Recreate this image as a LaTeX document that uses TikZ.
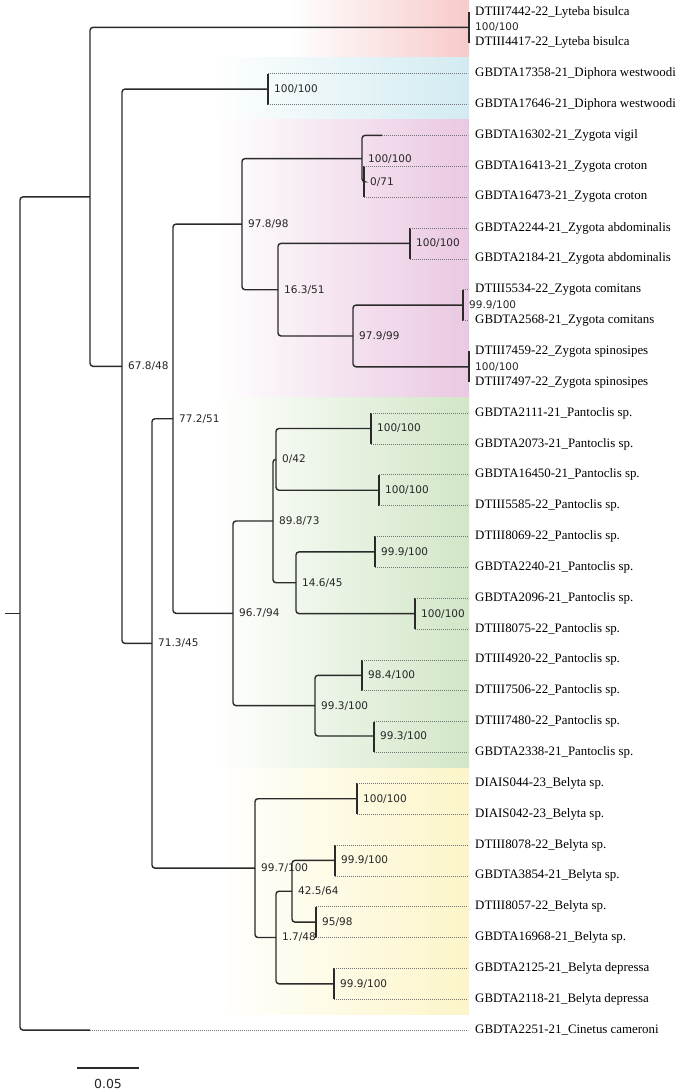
\documentclass[tikz,border=0pt]{standalone}
\usepackage{fontspec}
\setmainfont{Liberation Serif}
\newfontfamily\bsfont{DejaVu Sans}
\definecolor{lytcol}{HTML}{F8CACA}
\definecolor{dipcol}{HTML}{D2EBF1}
\definecolor{zygcol}{HTML}{EAC8E1}
\definecolor{pancol}{HTML}{D2E6C7}
\definecolor{belcol}{HTML}{FCF5C8}
\definecolor{brcol}{HTML}{2A2A2A}
\begin{document}
\begin{tikzpicture}[x=1pt, y=-1pt,
  branch/.style={draw=brcol, line width=1.4pt, rounded corners=3pt},
  leader/.style={draw=black!55, line width=0.6pt, dash pattern=on 0.7pt off 1.3pt},
  tip/.style={anchor=west, inner xsep=7pt, inner ysep=1pt, font=\fontsize{12.9}{14}\selectfont},
  bs/.style={anchor=west, inner sep=1pt, xshift=5pt, text=black!85, font=\bsfont\fontsize{10.5}{12}\selectfont}]
\useasboundingbox (0,0) rectangle (691,1090);

% clade bands
\shade[left color=white, right color=lytcol] (290,0) rectangle (469,57);
\shade[left color=white, right color=dipcol] (210,57) rectangle (469,119);
\shade[left color=white, right color=zygcol] (215,119) rectangle (469,397);
\shade[left color=white, right color=pancol] (215,397) rectangle (469,768);
\shade[left color=white, right color=belcol] (215,768) rectangle (469,1014);

% tips
\node[tip] (t1) at (468,12.0) {DTIII7442-22\_Lyteba bisulca};
\node[tip] (t2) at (468,42.85) {DTIII4417-22\_Lyteba bisulca};
\node[tip] (t3) at (468,73.7) {GBDTA17358-21\_Diphora westwoodi};
\node[tip] (t4) at (468,104.55) {GBDTA17646-21\_Diphora westwoodi};
\node[tip] (t5) at (468,135.4) {GBDTA16302-21\_Zygota vigil};
\node[tip] (t6) at (468,166.25) {GBDTA16413-21\_Zygota croton};
\node[tip] (t7) at (468,197.1) {GBDTA16473-21\_Zygota croton};
\node[tip] (t8) at (468,227.95) {GBDTA2244-21\_Zygota abdominalis};
\node[tip] (t9) at (468,258.8) {GBDTA2184-21\_Zygota abdominalis};
\node[tip] (t10) at (468,289.65) {DTIII5534-22\_Zygota comitans};
\node[tip] (t11) at (468,320.5) {GBDTA2568-21\_Zygota comitans};
\node[tip] (t12) at (468,351.35) {DTIII7459-22\_Zygota spinosipes};
\node[tip] (t13) at (468,382.2) {DTIII7497-22\_Zygota spinosipes};
\node[tip] (t14) at (468,413.05) {GBDTA2111-21\_Pantoclis sp.};
\node[tip] (t15) at (468,443.9) {GBDTA2073-21\_Pantoclis sp.};
\node[tip] (t16) at (468,474.75) {GBDTA16450-21\_Pantoclis sp.};
\node[tip] (t17) at (468,505.6) {DTIII5585-22\_Pantoclis sp.};
\node[tip] (t18) at (468,536.45) {DTIII8069-22\_Pantoclis sp.};
\node[tip] (t19) at (468,567.3) {GBDTA2240-21\_Pantoclis sp.};
\node[tip] (t20) at (468,598.15) {GBDTA2096-21\_Pantoclis sp.};
\node[tip] (t21) at (468,629.0) {DTIII8075-22\_Pantoclis sp.};
\node[tip] (t22) at (468,659.85) {DTIII4920-22\_Pantoclis sp.};
\node[tip] (t23) at (468,690.7) {DTIII7506-22\_Pantoclis sp.};
\node[tip] (t24) at (468,721.55) {DTIII7480-22\_Pantoclis sp.};
\node[tip] (t25) at (468,752.4) {GBDTA2338-21\_Pantoclis sp.};
\node[tip] (t26) at (468,783.25) {DIAIS044-23\_Belyta sp.};
\node[tip] (t27) at (468,814.1) {DIAIS042-23\_Belyta sp.};
\node[tip] (t28) at (468,844.95) {DTIII8078-22\_Belyta sp.};
\node[tip] (t29) at (468,875.8) {GBDTA3854-21\_Belyta sp.};
\node[tip] (t30) at (468,906.65) {DTIII8057-22\_Belyta sp.};
\node[tip] (t31) at (468,937.5) {GBDTA16968-21\_Belyta sp.};
\node[tip] (t32) at (468,968.35) {GBDTA2125-21\_Belyta depressa};
\node[tip] (t33) at (468,999.2) {GBDTA2118-21\_Belyta depressa};
\node[tip] (t34) at (468,1030.05) {GBDTA2251-21\_Cinetus cameroni};

% internal nodes
\coordinate (base) at (5,613.5);
\coordinate (root) at (20,613.5);
\coordinate (nA) at (90,196.9);
\coordinate (nB) at (122,366.3);
\coordinate (nC) at (152,643.4);
\coordinate (nD) at (173,418.7);
\coordinate (nE) at (242,224.1);
\coordinate (nF) at (362,158.6);
\coordinate (nG) at (364,181.7);
\coordinate (nH) at (278,289.7);
\coordinate (nI) at (353,336.0);
\coordinate (nJ) at (233,613.3);
\coordinate (nK) at (273,521.0);
\coordinate (nL) at (276,459.3);
\coordinate (nM) at (296,582.7);
\coordinate (nN) at (315,705.6);
\coordinate (nO) at (255,868.1);
\coordinate (nP) at (276,937.5);
\coordinate (nQ) at (292,891.2);
% sister pairs
\coordinate (cLyt) at (469,27.4);
\coordinate (cDip) at (268,89.1);
\coordinate (cAbd) at (410,243.4);
\coordinate (cCom) at (463,305.1);
\coordinate (cSpi) at (469,366.8);
\coordinate (cPa1) at (371,428.5);
\coordinate (cPa2) at (379,490.2);
\coordinate (cPa3) at (375,551.9);
\coordinate (cPa4) at (415,613.6);
\coordinate (cPa5) at (362,675.3);
\coordinate (cPa6) at (374,736.0);
\coordinate (cBe1) at (357,798.7);
\coordinate (cBe2) at (335,860.4);
\coordinate (cBe3) at (316,922.1);
\coordinate (cBe4) at (334,983.8);
\coordinate (vig) at (382,135.4);
\coordinate (cin) at (90,1030.05);

% branches
\draw[branch] (base) -- (root);
\draw[branch] (nA) -| (root) |- (cin);
\draw[branch] (cLyt) -| (nA) |- (nB);
\draw[branch] (cDip) -| (nB) |- (nC);
\draw[branch] (nD) -| (nC) |- (nO);
\draw[branch] (nE) -| (nD) |- (nJ);
\draw[branch] (nF) -| (nE) |- (nH);
\draw[branch] (vig) -| (nF) |- (nG);
\draw[branch] (cAbd) -| (nH) |- (nI);
\draw[branch] (cCom) -| (nI) |- (cSpi);
\draw[branch] (nK) -| (nJ) |- (nN);
\draw[branch] (nL) -| (nK) |- (nM);
\draw[branch] (cPa1) -| (nL) |- (cPa2);
\draw[branch] (cPa3) -| (nM) |- (cPa4);
\draw[branch] (cPa5) -| (nN) |- (cPa6);
\draw[branch] (cBe1) -| (nO) |- (nP);
\draw[branch] (nQ) -| (nP) |- (cBe4);
\draw[branch] (cBe2) -| (nQ) |- (cBe3);

% pair stems
\draw[branch] (cLyt |- t1.west) -- (cLyt |- t2.west);
\draw[branch] (cDip |- t3.west) -- (cDip |- t4.west);
\draw[branch] (nG |- t6.west) -- (nG |- t7.west);
\draw[branch] (cAbd |- t8.west) -- (cAbd |- t9.west);
\draw[branch] (cCom |- t10.west) -- (cCom |- t11.west);
\draw[branch] (cSpi |- t12.west) -- (cSpi |- t13.west);
\draw[branch] (cPa1 |- t14.west) -- (cPa1 |- t15.west);
\draw[branch] (cPa2 |- t16.west) -- (cPa2 |- t17.west);
\draw[branch] (cPa3 |- t18.west) -- (cPa3 |- t19.west);
\draw[branch] (cPa4 |- t20.west) -- (cPa4 |- t21.west);
\draw[branch] (cPa5 |- t22.west) -- (cPa5 |- t23.west);
\draw[branch] (cPa6 |- t24.west) -- (cPa6 |- t25.west);
\draw[branch] (cBe1 |- t26.west) -- (cBe1 |- t27.west);
\draw[branch] (cBe2 |- t28.west) -- (cBe2 |- t29.west);
\draw[branch] (cBe3 |- t30.west) -- (cBe3 |- t31.west);
\draw[branch] (cBe4 |- t32.west) -- (cBe4 |- t33.west);

% dotted leaders
\draw[leader] (cDip |- t3.west) -- (t3.west);
\draw[leader] (cDip |- t4.west) -- (t4.west);
\draw[leader] (vig) -- (t5.west);
\draw[leader] (nG |- t6.west) -- (t6.west);
\draw[leader] (nG |- t7.west) -- (t7.west);
\draw[leader] (cAbd |- t8.west) -- (t8.west);
\draw[leader] (cAbd |- t9.west) -- (t9.west);
\draw[leader] (cCom |- t10.west) -- (t10.west);
\draw[leader] (cCom |- t11.west) -- (t11.west);
\draw[leader] (cPa1 |- t14.west) -- (t14.west);
\draw[leader] (cPa1 |- t15.west) -- (t15.west);
\draw[leader] (cPa2 |- t16.west) -- (t16.west);
\draw[leader] (cPa2 |- t17.west) -- (t17.west);
\draw[leader] (cPa3 |- t18.west) -- (t18.west);
\draw[leader] (cPa3 |- t19.west) -- (t19.west);
\draw[leader] (cPa4 |- t20.west) -- (t20.west);
\draw[leader] (cPa4 |- t21.west) -- (t21.west);
\draw[leader] (cPa5 |- t22.west) -- (t22.west);
\draw[leader] (cPa5 |- t23.west) -- (t23.west);
\draw[leader] (cPa6 |- t24.west) -- (t24.west);
\draw[leader] (cPa6 |- t25.west) -- (t25.west);
\draw[leader] (cBe1 |- t26.west) -- (t26.west);
\draw[leader] (cBe1 |- t27.west) -- (t27.west);
\draw[leader] (cBe2 |- t28.west) -- (t28.west);
\draw[leader] (cBe2 |- t29.west) -- (t29.west);
\draw[leader] (cBe3 |- t30.west) -- (t30.west);
\draw[leader] (cBe3 |- t31.west) -- (t31.west);
\draw[leader] (cBe4 |- t32.west) -- (t32.west);
\draw[leader] (cBe4 |- t33.west) -- (t33.west);
\draw[leader] (cin) -- (t34.west);

% support values
\node[bs] (sLyt) at (cLyt) {100/100};
\node[bs] (sB) at (nB) {67.8/48};
\node[bs] (sDip) at (cDip) {100/100};
\node[bs] (sC) at (nC) {71.3/45};
\node[bs] (sD) at (nD) {77.2/51};
\node[bs] (sE) at (nE) {97.8/98};
\node[bs] (sF) at (nF) {100/100};
\node[bs] (sG) at (nG) {0/71};
\node[bs] (sAbd) at (cAbd) {100/100};
\node[bs] (sH) at (nH) {16.3/51};
\node[bs] (sI) at (nI) {97.9/99};
\node[bs] (sCom) at (cCom) {99.9/100};
\node[bs] (sSpi) at (cSpi) {100/100};
\node[bs] (sJ) at (nJ) {96.7/94};
\node[bs] (sK) at (nK) {89.8/73};
\node[bs] (sL) at (nL) {0/42};
\node[bs] (sPa1) at (cPa1) {100/100};
\node[bs] (sPa2) at (cPa2) {100/100};
\node[bs] (sM) at (nM) {14.6/45};
\node[bs] (sPa3) at (cPa3) {99.9/100};
\node[bs] (sPa4) at (cPa4) {100/100};
\node[bs] (sN) at (nN) {99.3/100};
\node[bs] (sPa5) at (cPa5) {98.4/100};
\node[bs] (sPa6) at (cPa6) {99.3/100};
\node[bs] (sO) at (nO) {99.7/100};
\node[bs] (sBe1) at (cBe1) {100/100};
\node[bs] (sP) at (nP) {1.7/48};
\node[bs] (sQ) at (nQ) {42.5/64};
\node[bs] (sBe2) at (cBe2) {99.9/100};
\node[bs] (sBe3) at (cBe3) {95/98};
\node[bs] (sBe4) at (cBe4) {99.9/100};

% scale bar
\coordinate (sbl) at (77,1068);
\coordinate (sbr) at (139,1068);
\draw[branch] (sbl) -- (sbr);
\node[text=black!85, font=\bsfont\fontsize{12.5}{14}\selectfont] (sblab) at (108,1084) {0.05};
\end{tikzpicture}
\end{document}
